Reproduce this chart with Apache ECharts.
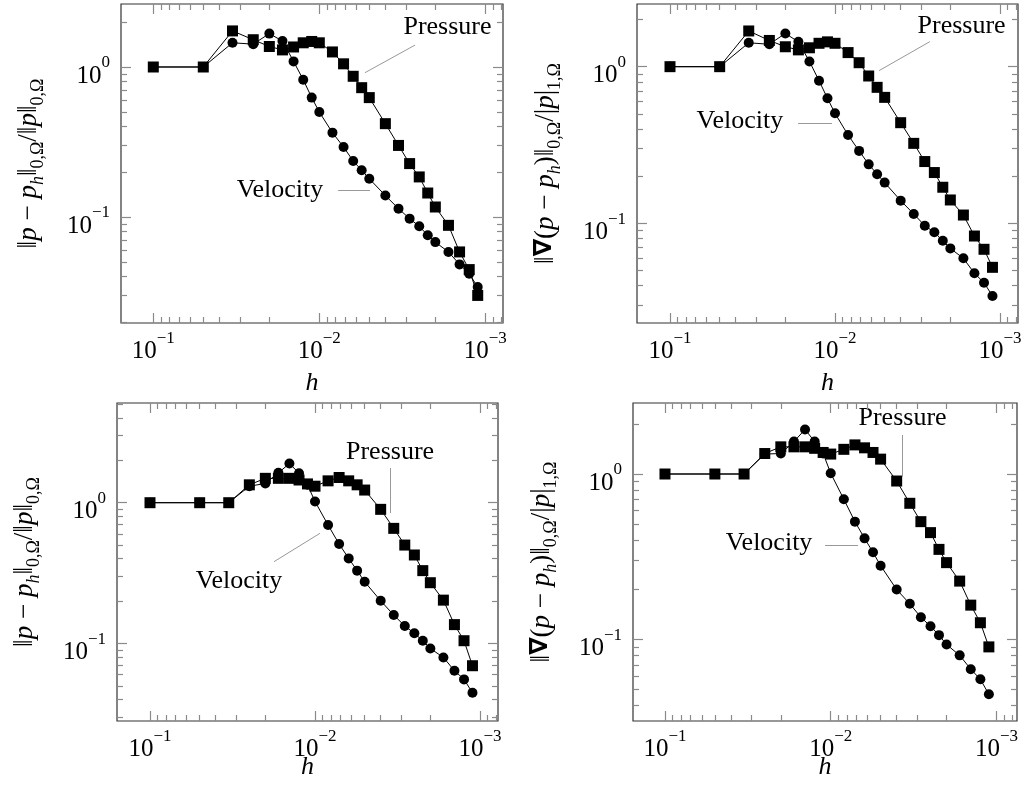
<!DOCTYPE html>
<html><head><meta charset="utf-8">
<script src="https://cdn.jsdelivr.net/npm/echarts@6/dist/echarts.min.js"></script>
<style>html,body{margin:0;padding:0;background:#fff}#c{width:1029px;height:795px}</style>
</head><body><div id="c"></div>
<script>
// ---------- data ----------
const hValues = [0.1, 0.05, 0.03333, 0.025, 0.02, 0.01667, 0.01429, 0.0125, 0.01111, 0.01,
  0.008333, 0.007143, 0.00625, 0.005556, 0.005, 0.004, 0.003333, 0.002857, 0.0025, 0.002222,
  0.002, 0.001667, 0.001429, 0.00125, 0.001111];

const seriesNames = ['Pressure', 'Velocity'];

// top-left: ||p - p_h|| relative L2
const tlPressure = [1.0, 1.0, 1.74, 1.52, 1.37, 1.30, 1.36, 1.45, 1.48, 1.45, 1.26, 1.05, 0.867, 0.728, 0.625, 0.419, 0.30, 0.227, 0.185, 0.1445, 0.1166, 0.088, 0.0585, 0.0446, 0.030];
const tlVelocity = [1.0, 1.0, 1.45, 1.42, 1.67, 1.49, 1.09, 0.823, 0.625, 0.501, 0.365, 0.293, 0.236, 0.205, 0.180, 0.139, 0.1137, 0.0975, 0.0867, 0.0755, 0.068, 0.0585, 0.0483, 0.0419, 0.0341];
// top-right: gradient error
const trPressure = [1.0, 1.0, 1.69, 1.47, 1.34, 1.28, 1.32, 1.41, 1.44, 1.41, 1.23, 1.06, 0.872, 0.738, 0.637, 0.439, 0.324, 0.248, 0.211, 0.17, 0.141, 0.113, 0.083, 0.0683, 0.0524];
const trVelocity = [1.0, 1.0, 1.42, 1.39, 1.63, 1.44, 1.08, 0.814, 0.628, 0.504, 0.366, 0.29, 0.238, 0.206, 0.182, 0.1396, 0.1148, 0.0966, 0.0877, 0.0775, 0.0692, 0.0598, 0.048, 0.0418, 0.0344];
// bottom-left
const blPressure = [1.0, 1.0, 1.0, 1.34, 1.49, 1.49, 1.49, 1.45, 1.36, 1.31, 1.43, 1.51, 1.43, 1.34, 1.23, 0.897, 0.657, 0.5, 0.425, 0.329, 0.27, 0.203, 0.136, 0.1045, 0.0694];
const blVelocity = [1.0, 1.0, 1.0, 1.31, 1.37, 1.63, 1.90, 1.62, 1.34, 1.02, 0.694, 0.508, 0.402, 0.329, 0.274, 0.201, 0.159, 0.133, 0.118, 0.1045, 0.092, 0.0795, 0.064, 0.0555, 0.0446];
// bottom-right
const brPressure = [1.0, 1.0, 1.0, 1.33, 1.46, 1.46, 1.46, 1.43, 1.35, 1.32, 1.41, 1.50, 1.44, 1.35, 1.23, 0.907, 0.665, 0.515, 0.442, 0.35, 0.291, 0.225, 0.161, 0.126, 0.090];
const brVelocity = [1.0, 1.0, 1.0, 1.32, 1.33, 1.57, 1.86, 1.57, 1.33, 1.01, 0.703, 0.515, 0.408, 0.336, 0.279, 0.20, 0.164, 0.136, 0.12, 0.106, 0.093, 0.080, 0.066, 0.0573, 0.0465];

// tick labels (exponents of 10)
const xTickExponents = [-1, -2, -3];
const yTickExponents = [0, -1];
const xAxisTitle = 'h';
const yTitleL2 = '{n|‖}{i|p}{n| − }{i|p}{isub|h}{n|‖}{sub|0,Ω}{n|/‖}{i|p}{n|‖}{sub|0,Ω}';
const yTitleH1 = '{n|‖}{nb|∇}{n|(}{i|p}{n| − }{i|p}{isub|h}{n|)‖}{sub|0,Ω}{n|/|}{i|p}{n||}{sub|1,Ω}';

// ---------- layout / styling ----------
const FONT = 'Liberation Serif';
const panels = [
  { grid: {left: 121, top: 4, width: 382, height: 319}, xLog: [-3.1066, -0.8054], yLog: [-1.7067, 0.42],
    p: tlPressure, v: tlVelocity, yName: yTitleL2, nameGapX: 47, nameGapY: 74,
    pText: [0.00169, 1.849], pLine: [[0.00265, 1.40], [0.00531, 0.916]],
    vText: [0.01726, 0.1514], vLine: [[0.0077, 0.1497], [0.00495, 0.1497]] },
  { grid: {left: 637, top: 4, width: 381, height: 319}, xLog: [-3.109, -0.8], yLog: [-1.636, 0.40],
    p: trPressure, v: trVelocity, yName: yTitleH1, nameGapY: 73, nameGapX: 47,
    pText: [0.00171, 1.82], pLine: [[0.00266, 1.445], [0.00541, 0.943]],
    vText: [0.0377, 0.450], vLine: [[0.01675, 0.4355], [0.01042, 0.4355]] },
  { grid: {left: 117, top: 403, width: 381, height: 318}, xLog: [-3.109, -0.8], yLog: [-1.5515, 0.7086],
    p: blPressure, v: blVelocity, yName: yTitleL2, nameGapY: 74, nameGapX: 33,
    pText: [0.00351, 2.293], pLine: [[0.00351, 1.764], [0.00351, 0.845]],
    vText: [0.0289, 0.2777], vLine: [[0.01772, 0.3808], [0.00933, 0.606]] },
  { grid: {left: 633, top: 403, width: 384, height: 318}, xLog: [-3.124, -0.807], yLog: [-1.494, 0.4295],
    p: brPressure, v: brVelocity, yName: yTitleH1, nameGapY: 73, nameGapX: 33,
    pText: [0.003687, 2.182], pLine: [[0.00368, 1.722], [0.00368, 0.963]],
    vText: [0.02356, 0.3825], vLine: [[0.01082, 0.372], [0.00684, 0.372]] }
];

function minorList(ext) {
  const out = [];
  for (let n = -5; n <= 1; n++) for (let k = 2; k <= 9; k++) {
    const v = n + Math.log10(k);
    if (v > ext[0] && v < ext[1]) out.push(v);
  }
  return out;
}
function powLabel(v) {
  const e = Math.round(v);
  return '{b|10}{s|' + (e < 0 ? '−' + (-e) : String(e)) + '}';
}
const tickRich = {
  b: {fontFamily: FONT, fontSize: 25, lineHeight: 34, verticalAlign: 'bottom', color: '#000'},
  s: {fontFamily: FONT, fontSize: 17, lineHeight: 18, verticalAlign: 'top', color: '#000'}
};
const nameRich = {
  n: {fontFamily: FONT, fontSize: 27, lineHeight: 32, verticalAlign: 'top', color: '#000'},
  i: {fontFamily: FONT, fontSize: 27, fontStyle: 'italic', lineHeight: 32, verticalAlign: 'top', color: '#000'},
  nb: {fontFamily: 'DejaVu Sans', fontSize: 25, fontWeight: 'bold', lineHeight: 32, verticalAlign: 'top', color: '#000'},
  sub: {fontFamily: FONT, fontSize: 18, lineHeight: 19, verticalAlign: 'bottom', color: '#000'},
  isub: {fontFamily: FONT, fontSize: 18, fontStyle: 'italic', lineHeight: 19, verticalAlign: 'bottom', color: '#000'}
};
const TICK_COLOR = '#8a8a8a';

const grids = [], xAxes = [], yAxes = [], series = [];
panels.forEach((P, g) => {
  grids.push(Object.assign({show: true, borderColor: '#333', borderWidth: 1.2}, P.grid));
  const xMin = minorList(P.xLog), yMin = minorList(P.yLog);
  const xMaj = xTickExponents.filter(v => v >= P.xLog[0] && v <= P.xLog[1]);
  const yMaj = yTickExponents.filter(v => v >= P.yLog[0] && v <= P.yLog[1]);
  // data axes (log)
  xAxes.push({type: 'log', gridIndex: g, min: Math.pow(10, P.xLog[0]), max: Math.pow(10, P.xLog[1]), inverse: true, show: false});
  yAxes.push({type: 'log', gridIndex: g, min: Math.pow(10, P.yLog[0]), max: Math.pow(10, P.yLog[1]), show: false});
  // tick axes (log10 space, ticks only)
  const tickAxis = (ext, pos, vals, len, labels, inverse) => {
    const a = {
      type: 'value', gridIndex: g, min: ext[0], max: ext[1], position: pos, z: 10,
      axisLine: {show: false, onZero: false}, splitLine: {show: false},
      axisTick: {show: true, inside: true, length: len, customValues: vals, lineStyle: {color: TICK_COLOR, width: 1.2}},
      axisLabel: labels ? Object.assign({show: true, customValues: vals, formatter: powLabel, rich: tickRich}, labels) : {show: false}
    };
    if (inverse) a.inverse = true;
    return a;
  };
  const xb = tickAxis(P.xLog, 'bottom', xMaj, 10, {margin: 7}, true);
  xb.name = xAxisTitle; xb.nameLocation = 'middle'; xb.nameGap = P.nameGapX; xb.nameMoveOverlap = false;
  xb.nameTextStyle = {fontFamily: FONT, fontStyle: 'italic', fontSize: 26, color: '#000'};
  xAxes.push(xb, tickAxis(P.xLog, 'bottom', xMin, 6, null, true),
    tickAxis(P.xLog, 'top', xMaj, 10, null, true), tickAxis(P.xLog, 'top', xMin, 6, null, true));
  const yl = tickAxis(P.yLog, 'left', yMaj, 10, {margin: 11, padding: [9, 0, 0, 0]}, false);
  yl.name = P.yName; yl.nameLocation = 'middle'; yl.nameGap = P.nameGapY; yl.nameRotate = 90; yl.nameMoveOverlap = false;
  yl.nameTextStyle = {rich: nameRich, fontFamily: FONT, fontSize: 27, color: '#000'};
  yAxes.push(yl, tickAxis(P.yLog, 'left', yMin, 6, null, false),
    tickAxis(P.yLog, 'right', yMaj, 10, null, false), tickAxis(P.yLog, 'right', yMin, 6, null, false));

  const annLabel = {show: true, position: 'inside', color: '#000', fontFamily: FONT, fontSize: 26};
  const mk = (text, pos, line) => ({
    markPoint: {silent: true, animation: false, symbol: 'circle', symbolSize: 1, itemStyle: {color: 'rgba(0,0,0,0)'},
      data: [{coord: pos, label: Object.assign({formatter: text}, annLabel)}]},
    markLine: {silent: true, animation: false, symbol: ['none', 'none'], label: {show: false},
      lineStyle: {color: '#999', width: 1, type: 'solid'},
      data: [[{coord: line[0]}, {coord: line[1]}]]}
  });
  series.push(Object.assign({
    type: 'line', name: seriesNames[1], xAxisIndex: g * 5, yAxisIndex: g * 5,
    data: hValues.map((h, k) => [h, P.v[k]]), symbol: 'circle', symbolSize: 10,
    lineStyle: {color: '#000', width: 1}, itemStyle: {color: '#000'}, animation: false, z: 3
  }, mk(seriesNames[1], P.vText, P.vLine)));
  series.push(Object.assign({
    type: 'line', name: seriesNames[0], xAxisIndex: g * 5, yAxisIndex: g * 5,
    data: hValues.map((h, k) => [h, P.p[k]]), symbol: 'rect', symbolSize: 11,
    lineStyle: {color: '#000', width: 1}, itemStyle: {color: '#000'}, animation: false, z: 4
  }, mk(seriesNames[0], P.pText, P.pLine)));
});

const chart = echarts.init(document.getElementById('c'));
chart.setOption({
  animation: false,
  backgroundColor: '#fff',
  grid: grids, xAxis: xAxes, yAxis: yAxes, series: series
});
</script>
</body></html>
